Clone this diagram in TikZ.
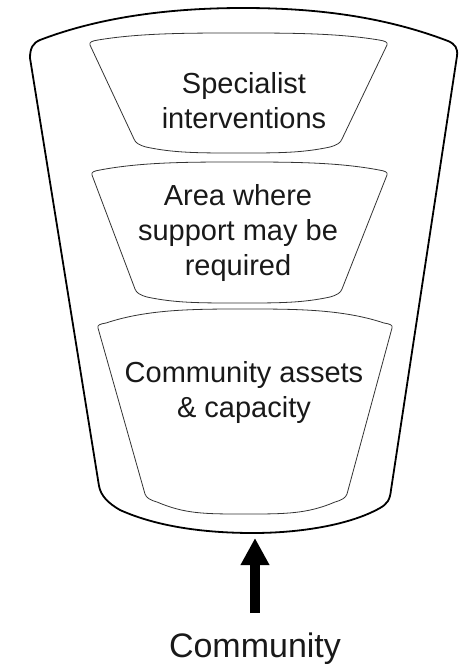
\documentclass[tikz,border=0pt]{standalone}
\usepackage{fontspec}
\setmainfont{Liberation Sans}
\usetikzlibrary{arrows.meta}
\tikzset{
  outerline/.style={draw=black, line width=1.8pt, line join=round},
  innerline/.style={draw=black!80, line width=0.8pt, line join=round},
  layertext/.style={font=\fontsize{29}{35}\selectfont, align=center, text=black!90, inner sep=0pt, anchor=base},
  basetext/.style={font=\fontsize{34}{40}\selectfont, text=black!90, inner sep=0pt, anchor=base},
  uparrow/.style={-{Triangle[length=27pt,width=27pt]}, line width=10pt, draw=black}
}
\newcommand{\funnelshape}[8]{%
 \pgfmathsetmacro{\fcx}{(#1+#2)/2}%
 \draw[innerline] (#1,#3+3)
  -- (#5,#7-4)
  .. controls (#5+1.5,#7) and (#5+5,#7+2) .. (#5+12,#7+4)
  .. controls (#5+40,#8) and (\fcx-40,#8) .. (\fcx,#8)
  .. controls (\fcx+40,#8) and (#6-40,#8) .. (#6-12,#7+4)
  .. controls (#6-5,#7+2) and (#6-1.5,#7) .. (#6,#7-4)
  -- (#2,#3+3)
  .. controls (#2+1,#3) and (#2-2,#3-1) .. (#2-8,#3-2)
  .. controls (#2-50,#4) and (\fcx+50,#4) .. (\fcx,#4)
  .. controls (\fcx-50,#4) and (#1+50,#4) .. (#1+8,#3-2)
  .. controls (#1+2,#3-1) and (#1-1,#3) .. (#1,#3+3) -- cycle;
}
\begin{document}
\begin{tikzpicture}[x=1pt,y=-1pt]
\useasboundingbox (0,0) rectangle (459,664);
% outer cup
\draw[outerline] (30,58) -- (99,486)
  .. controls (101,496) and (108,503) .. (120,510)
  .. controls (160,528) and (210,533) .. (253,533)
  .. controls (300,533) and (350,525) .. (380,508)
  .. controls (387,504) and (390,500) .. (391,490)
  -- (457,56)
  .. controls (458,48) and (455,44) .. (448,41)
  .. controls (380,15) and (310,8) .. (243,8)
  .. controls (170,8) and (100,17) .. (40,40)
  .. controls (33,43) and (30,48) .. (30,58) -- cycle;
% layers
\funnelshape{90}{387}{42}{33}{134}{342}{143}{153}
\funnelshape{92}{387}{172}{162}{135}{342}{293}{303}
\funnelshape{98}{392}{325}{309}{145}{347}{498}{514}
% texts (base anchor = baseline of the last line)
\node[layertext] (spec) at (244,128) {Specialist\\interventions};
\node[layertext] (area) at (238,275) {Area where\\support may be\\required};
\node[layertext] (assets) at (244,417) {Community assets\\\& capacity};
\node[basetext] (comm) at (255,657) {Community};
% arrow
\coordinate (arrbase) at (255,613);
\coordinate (arrtip) at (255,538);
\draw[uparrow] (arrbase) -- (arrtip);
\end{tikzpicture}
\end{document}
